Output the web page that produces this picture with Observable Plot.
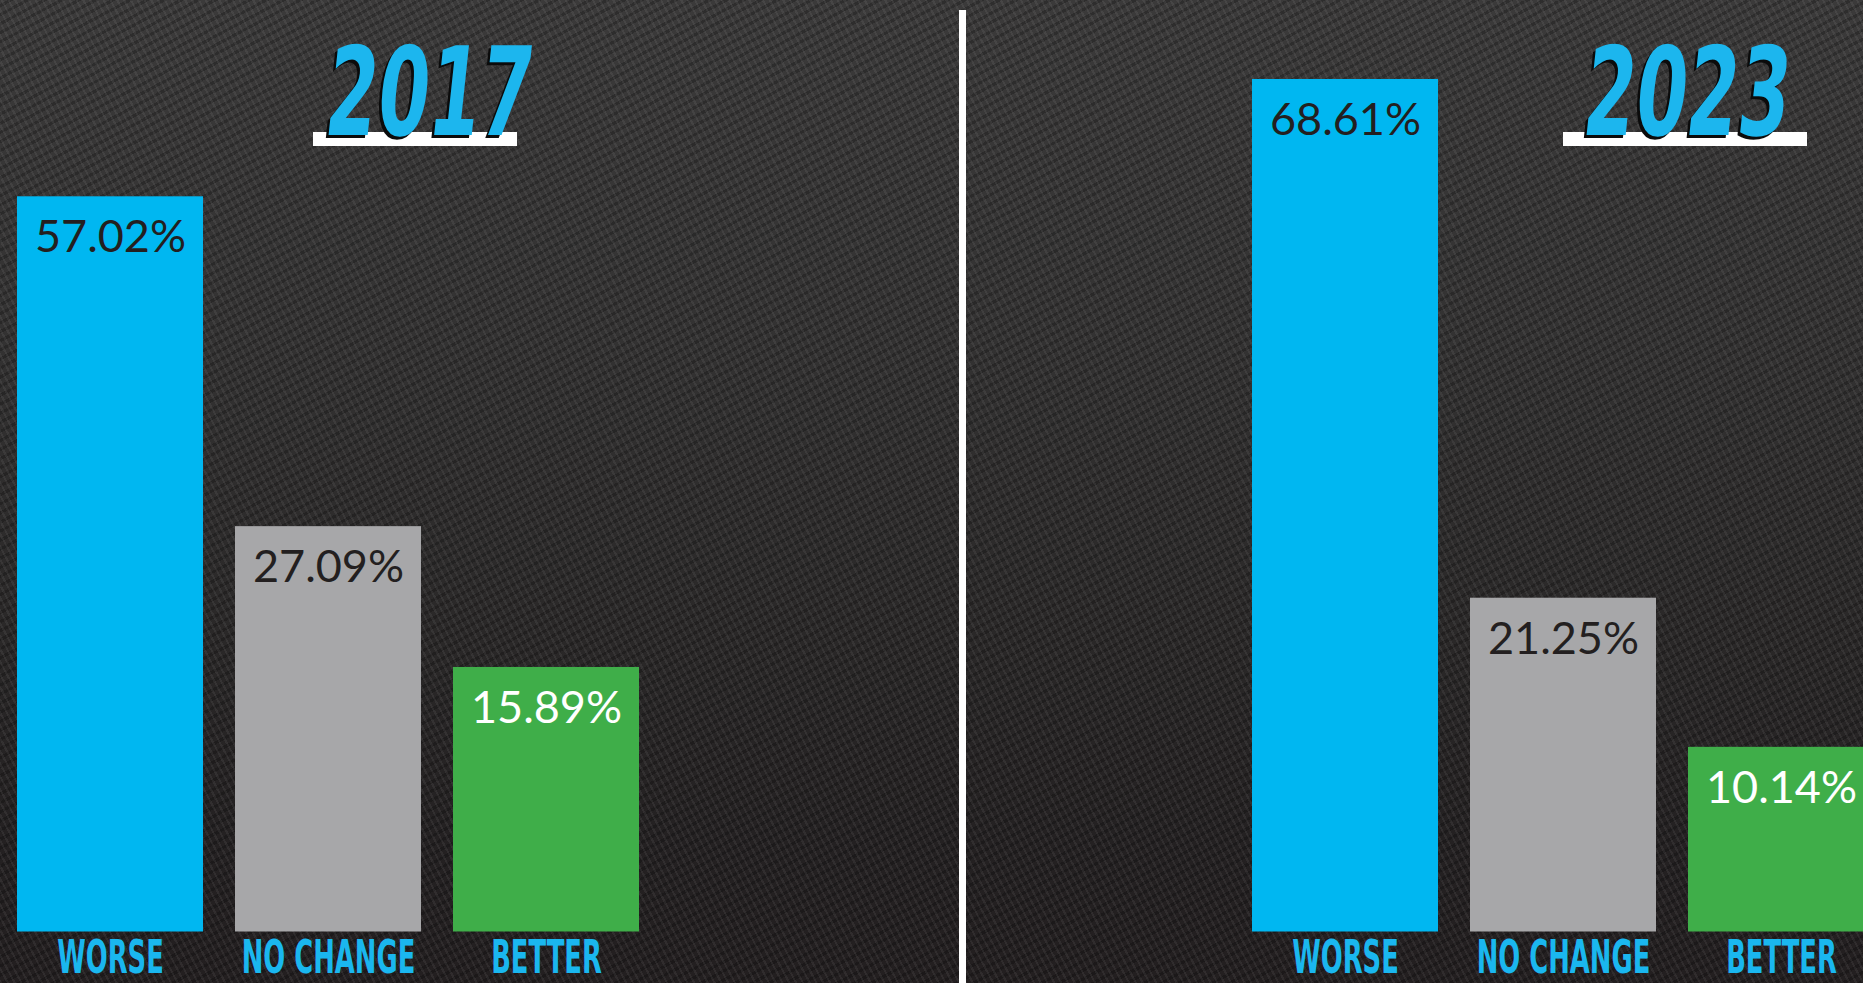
<!DOCTYPE html>
<html>
<head>
<meta charset="utf-8">
<script src="https://cdn.jsdelivr.net/npm/d3@7"></script>
<script src="https://cdn.jsdelivr.net/npm/@observablehq/plot@0.6"></script>
<style>
  html, body { margin: 0; padding: 0; overflow: hidden; background: #231f20; }
  #stage {
    position: relative; width: 1863px; height: 983px; overflow: hidden;
    background-color: #231f20;
    background-image:
      repeating-linear-gradient(62deg, rgba(255,255,255,0.06) 0 2px, rgba(0,0,0,0) 2px 6px),
      repeating-linear-gradient(-28deg, rgba(0,0,0,0.22) 0 3px, rgba(0,0,0,0) 3px 8px),
      linear-gradient(180deg, #3b3a3a 0%, #333232 35%, #2a2828 65%, #242122 85%, #231f20 100%);
  }
  .panel { position: absolute; top: 0; }
  .underline { position: absolute; top: 132px; height: 14px; background: #ffffff; }
  .title {
    position: absolute; top: 31px; width: 400px; text-align: center;
    font-family: "DejaVu Sans", sans-serif; font-weight: bold; font-size: 123px; line-height: 123px;
    color: #1cb6ee; text-shadow: -4px 3px 0 #0b0b0b;
    transform: skewX(-6deg) scaleX(0.6); transform-origin: 50% 50%; white-space: nowrap;
  }
  .divider { position: absolute; left: 959px; top: 10px; width: 7px; height: 973px; background: #ffffff; }
</style>
</head>
<body>
<div id="stage"></div>
<script>
// ---- data ----
const categories = ["WORSE", "NO CHANGE", "BETTER"];
const years = ["2017", "2023"];
const values2017 = [57.02, 27.09, 15.89];
const values2023 = [68.61, 21.25, 10.14];
const barColors = ["#00b7f1", "#a7a7a9", "#3fae49"];
const darkLabel = "#231f20";
const lightLabel = "#ffffff";
const labelBlue = "#1ab7ef";

function panel(values, layout) {
  const data = categories.map((c, i) => ({category: c, value: values[i]}));
  const plot = Plot.plot({
    width: layout.width,
    height: 983,
    marginTop: 65.2,
    marginBottom: 51.5,
    marginLeft: layout.marginLeft,
    marginRight: layout.marginRight,
    style: {background: "transparent"},
    x: {domain: categories, paddingInner: 0.148, paddingOuter: 0, axis: null},
    y: {type: "pow", exponent: 0.8, domain: [0, 70], axis: null},
    color: {domain: categories, range: barColors},
    marks: [
      Plot.barY(data, {x: "category", y: "value", fill: "category"}),
      Plot.text(data, {
        filter: d => d.category !== "BETTER",
        x: "category", y: "value", text: d => d.value.toFixed(2) + "%",
        fill: darkLabel, dy: 41, fontSize: 45, fontFamily: "Lato"
      }),
      Plot.text(data, {
        filter: d => d.category === "BETTER",
        x: "category", y: "value", text: d => d.value.toFixed(2) + "%",
        fill: lightLabel, dy: 41, fontSize: 45, fontFamily: "Lato"
      }),
      Plot.text(data, {
        x: "category", frameAnchor: "bottom", text: "category",
        dy: 41, fill: labelBlue, fontSize: 47, fontWeight: "bold",
        fontFamily: "DejaVu Sans"
      })
    ]
  });
  // condense the category labels horizontally around their anchor
  plot.querySelectorAll("text").forEach(t => {
    if (!categories.includes(t.textContent)) return;
    const x = t.getAttribute("x"), y = t.getAttribute("y");
    let tr = t.getAttribute("transform") || "";
    if (x !== null || y !== null) {
      tr = `translate(${x || 0},${y || 0}) ` + tr;
      t.removeAttribute("x"); t.removeAttribute("y");
    }
    t.setAttribute("transform", tr + " scale(0.55,1)");
  });
  plot.classList.add("panel");
  plot.style.left = layout.left + "px";
  return plot;
}

const stage = document.getElementById("stage");
stage.appendChild(panel(values2017, {left: 0, width: 962, marginLeft: 16.6, marginRight: 322.8}));
stage.appendChild(panel(values2023, {left: 962, width: 913, marginLeft: 290, marginRight: 0.4}));

// titles with white underline bars
const titleSpecs = [
  {year: years[0], center: 430, ulLeft: 313, ulWidth: 204},
  {year: years[1], center: 1688, ulLeft: 1563, ulWidth: 244}
];
titleSpecs.forEach(s => {
  const ul = document.createElement("div");
  ul.className = "underline";
  ul.style.left = s.ulLeft + "px";
  ul.style.width = s.ulWidth + "px";
  stage.appendChild(ul);
  const t = document.createElement("div");
  t.className = "title";
  t.style.left = (s.center - 200) + "px";
  t.textContent = s.year;
  stage.appendChild(t);
});

const divider = document.createElement("div");
divider.className = "divider";
stage.appendChild(divider);
</script>
</body>
</html>
